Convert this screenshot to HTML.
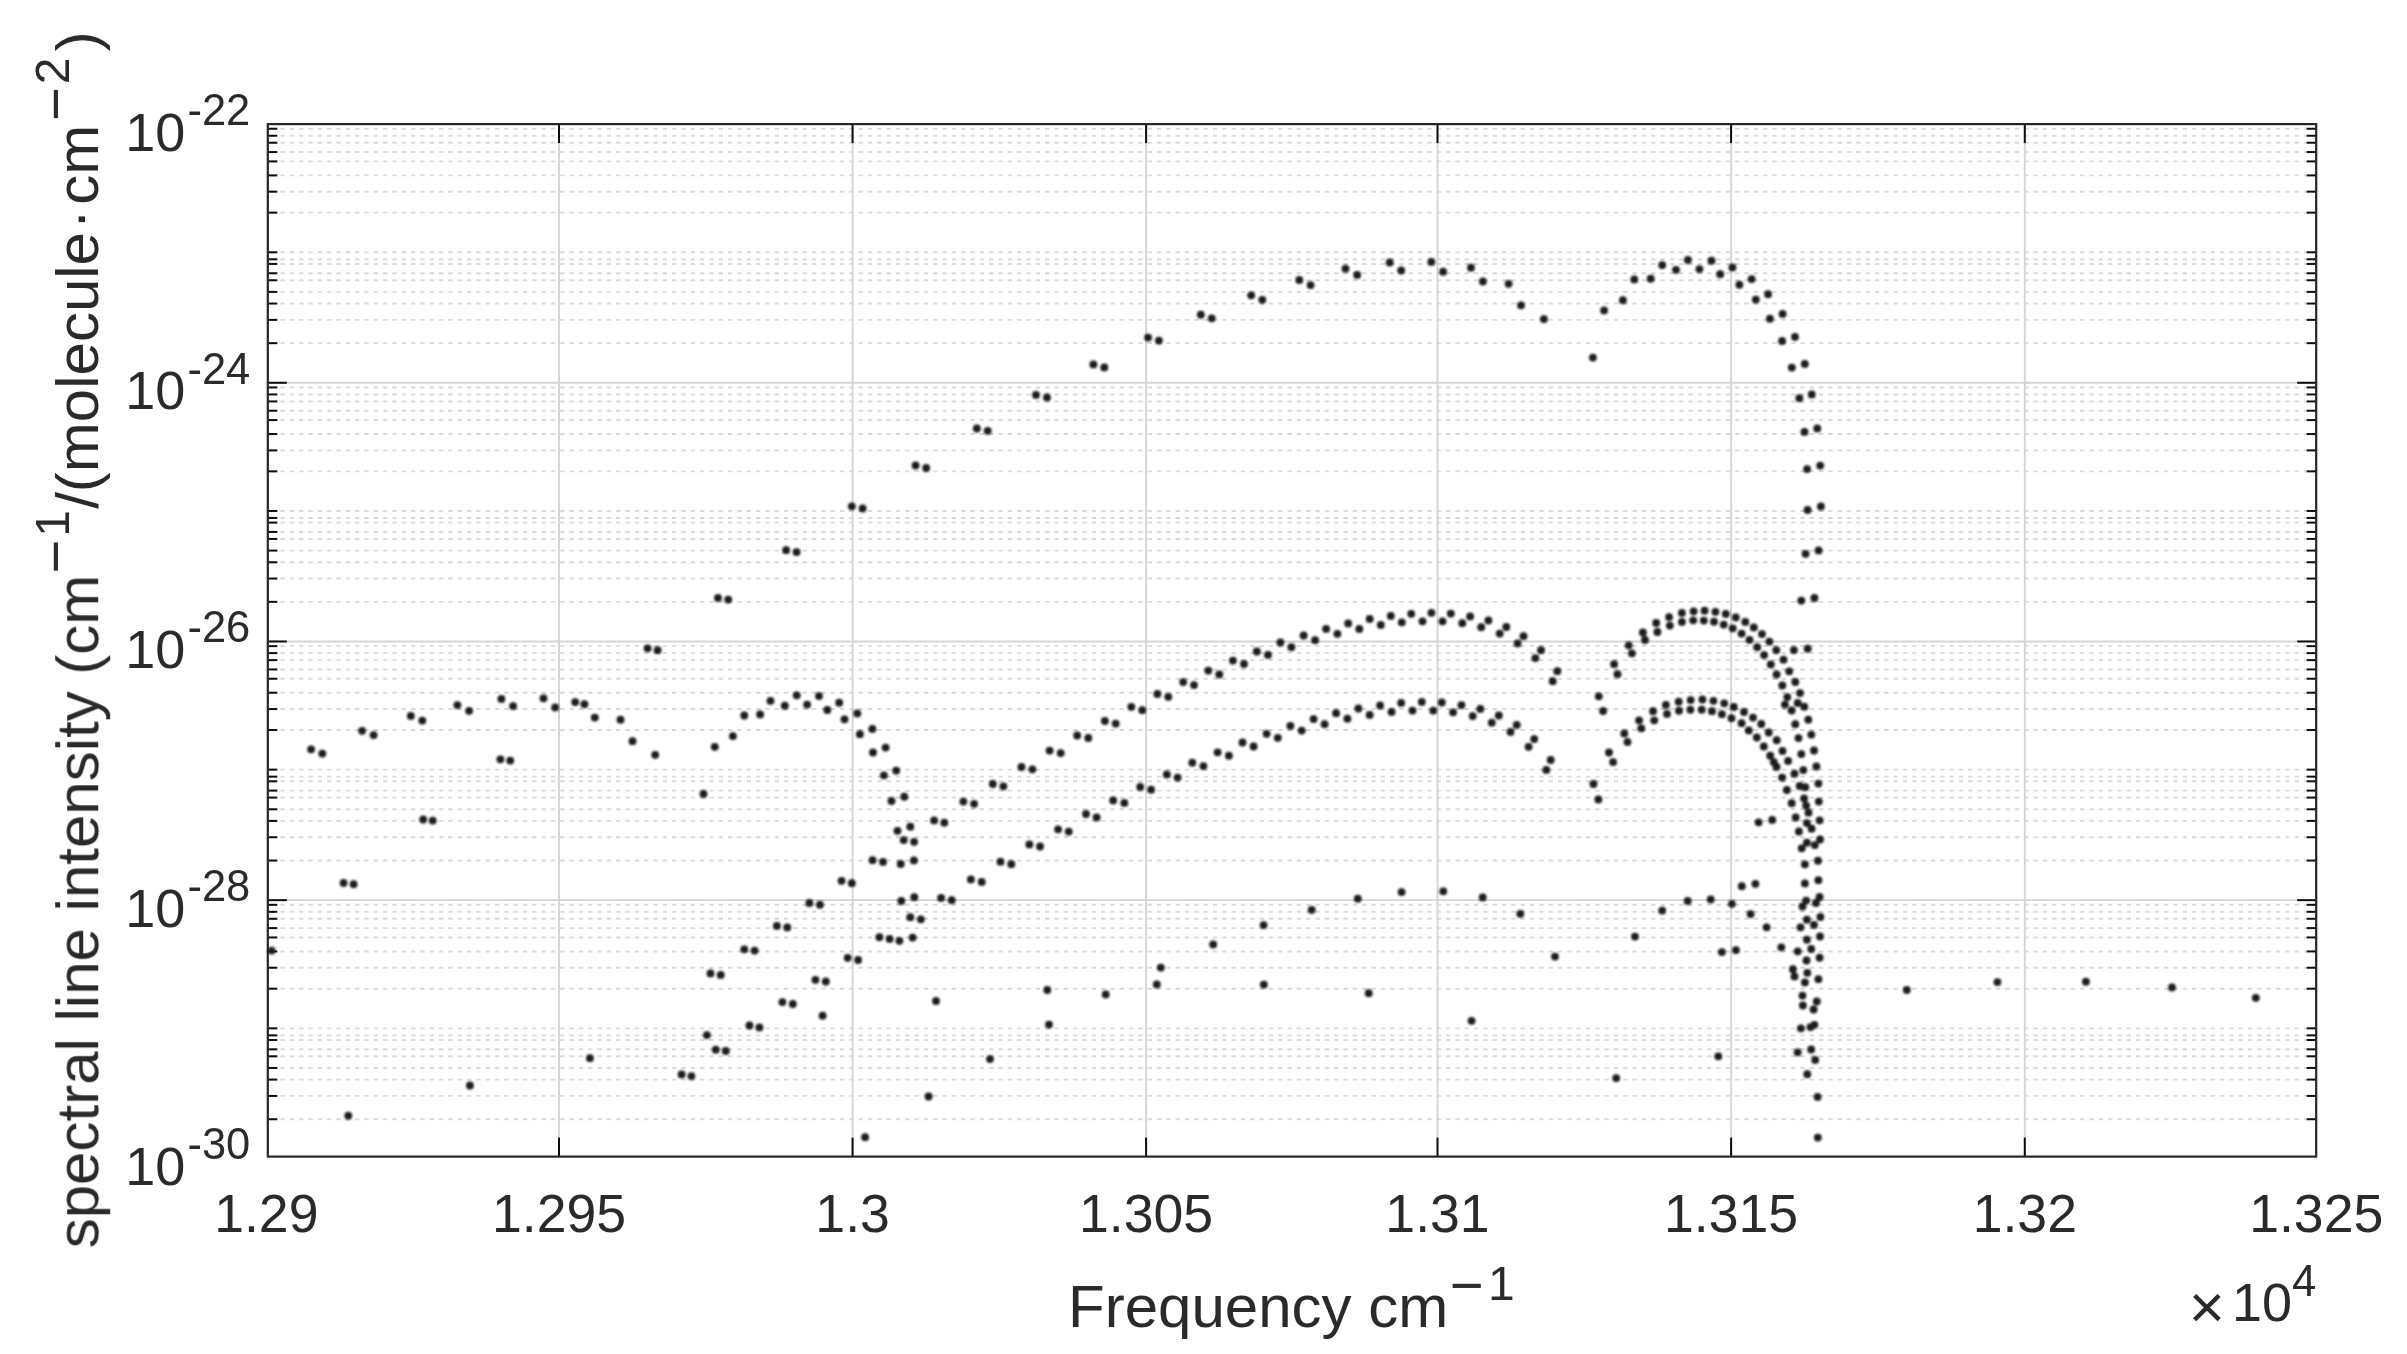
<!DOCTYPE html>
<html><head><meta charset="utf-8"><title>spectral line intensity</title>
<style>html,body{margin:0;padding:0;background:#fff}body{width:2407px;height:1354px;overflow:hidden}</style></head>
<body>
<svg width="2407" height="1354" viewBox="0 0 2407 1354" style="display:block">
<rect x="0" y="0" width="2407" height="1354" fill="#fff"/>
<defs><filter id="b1" x="-2%" y="-2%" width="104%" height="104%"><feGaussianBlur stdDeviation="0.85"/></filter><filter id="b2" x="-2%" y="-2%" width="104%" height="104%"><feGaussianBlur stdDeviation="0.55"/></filter></defs>
<g stroke="#dbdbdb" stroke-width="1.9" stroke-dasharray="4.4 4.9246" fill="none">
<line x1="271.06" y1="128.76" x2="2316.2" y2="128.76"/>
<line x1="271.06" y1="135.75" x2="2316.2" y2="135.75"/>
<line x1="271.06" y1="142.74" x2="2316.2" y2="142.74"/>
<line x1="271.06" y1="152.07" x2="2316.2" y2="152.07"/>
<line x1="271.06" y1="161.39" x2="2316.2" y2="161.39"/>
<line x1="271.06" y1="175.37" x2="2316.2" y2="175.37"/>
<line x1="271.06" y1="191.68" x2="2316.2" y2="191.68"/>
<line x1="271.06" y1="212.66" x2="2316.2" y2="212.66"/>
<line x1="271.06" y1="252.28" x2="2316.2" y2="252.28"/>
<line x1="271.06" y1="259.27" x2="2316.2" y2="259.27"/>
<line x1="271.06" y1="263.93" x2="2316.2" y2="263.93"/>
<line x1="271.06" y1="273.25" x2="2316.2" y2="273.25"/>
<line x1="271.06" y1="280.24" x2="2316.2" y2="280.24"/>
<line x1="271.06" y1="291.90" x2="2316.2" y2="291.90"/>
<line x1="271.06" y1="303.55" x2="2316.2" y2="303.55"/>
<line x1="271.06" y1="319.86" x2="2316.2" y2="319.86"/>
<line x1="271.06" y1="343.17" x2="2316.2" y2="343.17"/>
<line x1="271.06" y1="387.45" x2="2316.2" y2="387.45"/>
<line x1="271.06" y1="394.44" x2="2316.2" y2="394.44"/>
<line x1="271.06" y1="401.43" x2="2316.2" y2="401.43"/>
<line x1="271.06" y1="410.75" x2="2316.2" y2="410.75"/>
<line x1="271.06" y1="420.07" x2="2316.2" y2="420.07"/>
<line x1="271.06" y1="434.06" x2="2316.2" y2="434.06"/>
<line x1="271.06" y1="450.37" x2="2316.2" y2="450.37"/>
<line x1="271.06" y1="471.34" x2="2316.2" y2="471.34"/>
<line x1="271.06" y1="510.96" x2="2316.2" y2="510.96"/>
<line x1="271.06" y1="517.95" x2="2316.2" y2="517.95"/>
<line x1="271.06" y1="522.62" x2="2316.2" y2="522.62"/>
<line x1="271.06" y1="531.94" x2="2316.2" y2="531.94"/>
<line x1="271.06" y1="538.93" x2="2316.2" y2="538.93"/>
<line x1="271.06" y1="550.58" x2="2316.2" y2="550.58"/>
<line x1="271.06" y1="562.23" x2="2316.2" y2="562.23"/>
<line x1="271.06" y1="578.55" x2="2316.2" y2="578.55"/>
<line x1="271.06" y1="601.85" x2="2316.2" y2="601.85"/>
<line x1="271.06" y1="646.13" x2="2316.2" y2="646.13"/>
<line x1="271.06" y1="653.12" x2="2316.2" y2="653.12"/>
<line x1="271.06" y1="660.12" x2="2316.2" y2="660.12"/>
<line x1="271.06" y1="669.44" x2="2316.2" y2="669.44"/>
<line x1="271.06" y1="678.76" x2="2316.2" y2="678.76"/>
<line x1="271.06" y1="692.74" x2="2316.2" y2="692.74"/>
<line x1="271.06" y1="709.06" x2="2316.2" y2="709.06"/>
<line x1="271.06" y1="730.03" x2="2316.2" y2="730.03"/>
<line x1="271.06" y1="769.65" x2="2316.2" y2="769.65"/>
<line x1="271.06" y1="776.64" x2="2316.2" y2="776.64"/>
<line x1="271.06" y1="781.30" x2="2316.2" y2="781.30"/>
<line x1="271.06" y1="790.62" x2="2316.2" y2="790.62"/>
<line x1="271.06" y1="797.61" x2="2316.2" y2="797.61"/>
<line x1="271.06" y1="809.27" x2="2316.2" y2="809.27"/>
<line x1="271.06" y1="820.92" x2="2316.2" y2="820.92"/>
<line x1="271.06" y1="837.23" x2="2316.2" y2="837.23"/>
<line x1="271.06" y1="860.54" x2="2316.2" y2="860.54"/>
<line x1="271.06" y1="904.82" x2="2316.2" y2="904.82"/>
<line x1="271.06" y1="911.81" x2="2316.2" y2="911.81"/>
<line x1="271.06" y1="918.80" x2="2316.2" y2="918.80"/>
<line x1="271.06" y1="928.12" x2="2316.2" y2="928.12"/>
<line x1="271.06" y1="937.44" x2="2316.2" y2="937.44"/>
<line x1="271.06" y1="951.43" x2="2316.2" y2="951.43"/>
<line x1="271.06" y1="967.74" x2="2316.2" y2="967.74"/>
<line x1="271.06" y1="988.72" x2="2316.2" y2="988.72"/>
<line x1="271.06" y1="1028.33" x2="2316.2" y2="1028.33"/>
<line x1="271.06" y1="1035.33" x2="2316.2" y2="1035.33"/>
<line x1="271.06" y1="1039.99" x2="2316.2" y2="1039.99"/>
<line x1="271.06" y1="1049.31" x2="2316.2" y2="1049.31"/>
<line x1="271.06" y1="1056.30" x2="2316.2" y2="1056.30"/>
<line x1="271.06" y1="1067.95" x2="2316.2" y2="1067.95"/>
<line x1="271.06" y1="1079.60" x2="2316.2" y2="1079.60"/>
<line x1="271.06" y1="1095.92" x2="2316.2" y2="1095.92"/>
<line x1="271.06" y1="1119.22" x2="2316.2" y2="1119.22"/>
</g>
<g stroke="#d5d5d5" stroke-width="1.9" fill="none">
<line x1="267.8" y1="382.79" x2="2316.2" y2="382.79"/>
<line x1="267.8" y1="641.47" x2="2316.2" y2="641.47"/>
<line x1="267.8" y1="900.16" x2="2316.2" y2="900.16"/>
<line x1="559.0" y1="124.1" x2="559.0" y2="1156.6"/>
<line x1="852.6" y1="124.1" x2="852.6" y2="1156.6"/>
<line x1="1146.1" y1="124.1" x2="1146.1" y2="1156.6"/>
<line x1="1437.5" y1="124.1" x2="1437.5" y2="1156.6"/>
<line x1="1731.1" y1="124.1" x2="1731.1" y2="1156.6"/>
<line x1="2024.8" y1="124.1" x2="2024.8" y2="1156.6"/>
</g>
<g stroke="#111" stroke-width="2" fill="none" filter="url(#b2)">
<line x1="559.0" y1="1156.6" x2="559.0" y2="1137.6"/>
<line x1="559.0" y1="124.1" x2="559.0" y2="143.1"/>
<line x1="852.6" y1="1156.6" x2="852.6" y2="1137.6"/>
<line x1="852.6" y1="124.1" x2="852.6" y2="143.1"/>
<line x1="1146.1" y1="1156.6" x2="1146.1" y2="1137.6"/>
<line x1="1146.1" y1="124.1" x2="1146.1" y2="143.1"/>
<line x1="1437.5" y1="1156.6" x2="1437.5" y2="1137.6"/>
<line x1="1437.5" y1="124.1" x2="1437.5" y2="143.1"/>
<line x1="1731.1" y1="1156.6" x2="1731.1" y2="1137.6"/>
<line x1="1731.1" y1="124.1" x2="1731.1" y2="143.1"/>
<line x1="2024.8" y1="1156.6" x2="2024.8" y2="1137.6"/>
<line x1="2024.8" y1="124.1" x2="2024.8" y2="143.1"/>
<line x1="267.8" y1="382.79" x2="286.8" y2="382.79"/>
<line x1="2316.2" y1="382.79" x2="2297.2" y2="382.79"/>
<line x1="267.8" y1="641.47" x2="286.8" y2="641.47"/>
<line x1="2316.2" y1="641.47" x2="2297.2" y2="641.47"/>
<line x1="267.8" y1="900.16" x2="286.8" y2="900.16"/>
<line x1="2316.2" y1="900.16" x2="2297.2" y2="900.16"/>
<line x1="267.8" y1="128.76" x2="277.3" y2="128.76"/>
<line x1="2316.2" y1="128.76" x2="2306.7" y2="128.76"/>
<line x1="267.8" y1="135.75" x2="277.3" y2="135.75"/>
<line x1="2316.2" y1="135.75" x2="2306.7" y2="135.75"/>
<line x1="267.8" y1="142.74" x2="277.3" y2="142.74"/>
<line x1="2316.2" y1="142.74" x2="2306.7" y2="142.74"/>
<line x1="267.8" y1="152.07" x2="277.3" y2="152.07"/>
<line x1="2316.2" y1="152.07" x2="2306.7" y2="152.07"/>
<line x1="267.8" y1="161.39" x2="277.3" y2="161.39"/>
<line x1="2316.2" y1="161.39" x2="2306.7" y2="161.39"/>
<line x1="267.8" y1="175.37" x2="277.3" y2="175.37"/>
<line x1="2316.2" y1="175.37" x2="2306.7" y2="175.37"/>
<line x1="267.8" y1="191.68" x2="277.3" y2="191.68"/>
<line x1="2316.2" y1="191.68" x2="2306.7" y2="191.68"/>
<line x1="267.8" y1="212.66" x2="277.3" y2="212.66"/>
<line x1="2316.2" y1="212.66" x2="2306.7" y2="212.66"/>
<line x1="267.8" y1="252.28" x2="277.3" y2="252.28"/>
<line x1="2316.2" y1="252.28" x2="2306.7" y2="252.28"/>
<line x1="267.8" y1="259.27" x2="277.3" y2="259.27"/>
<line x1="2316.2" y1="259.27" x2="2306.7" y2="259.27"/>
<line x1="267.8" y1="263.93" x2="277.3" y2="263.93"/>
<line x1="2316.2" y1="263.93" x2="2306.7" y2="263.93"/>
<line x1="267.8" y1="273.25" x2="277.3" y2="273.25"/>
<line x1="2316.2" y1="273.25" x2="2306.7" y2="273.25"/>
<line x1="267.8" y1="280.24" x2="277.3" y2="280.24"/>
<line x1="2316.2" y1="280.24" x2="2306.7" y2="280.24"/>
<line x1="267.8" y1="291.90" x2="277.3" y2="291.90"/>
<line x1="2316.2" y1="291.90" x2="2306.7" y2="291.90"/>
<line x1="267.8" y1="303.55" x2="277.3" y2="303.55"/>
<line x1="2316.2" y1="303.55" x2="2306.7" y2="303.55"/>
<line x1="267.8" y1="319.86" x2="277.3" y2="319.86"/>
<line x1="2316.2" y1="319.86" x2="2306.7" y2="319.86"/>
<line x1="267.8" y1="343.17" x2="277.3" y2="343.17"/>
<line x1="2316.2" y1="343.17" x2="2306.7" y2="343.17"/>
<line x1="267.8" y1="387.45" x2="277.3" y2="387.45"/>
<line x1="2316.2" y1="387.45" x2="2306.7" y2="387.45"/>
<line x1="267.8" y1="394.44" x2="277.3" y2="394.44"/>
<line x1="2316.2" y1="394.44" x2="2306.7" y2="394.44"/>
<line x1="267.8" y1="401.43" x2="277.3" y2="401.43"/>
<line x1="2316.2" y1="401.43" x2="2306.7" y2="401.43"/>
<line x1="267.8" y1="410.75" x2="277.3" y2="410.75"/>
<line x1="2316.2" y1="410.75" x2="2306.7" y2="410.75"/>
<line x1="267.8" y1="420.07" x2="277.3" y2="420.07"/>
<line x1="2316.2" y1="420.07" x2="2306.7" y2="420.07"/>
<line x1="267.8" y1="434.06" x2="277.3" y2="434.06"/>
<line x1="2316.2" y1="434.06" x2="2306.7" y2="434.06"/>
<line x1="267.8" y1="450.37" x2="277.3" y2="450.37"/>
<line x1="2316.2" y1="450.37" x2="2306.7" y2="450.37"/>
<line x1="267.8" y1="471.34" x2="277.3" y2="471.34"/>
<line x1="2316.2" y1="471.34" x2="2306.7" y2="471.34"/>
<line x1="267.8" y1="510.96" x2="277.3" y2="510.96"/>
<line x1="2316.2" y1="510.96" x2="2306.7" y2="510.96"/>
<line x1="267.8" y1="517.95" x2="277.3" y2="517.95"/>
<line x1="2316.2" y1="517.95" x2="2306.7" y2="517.95"/>
<line x1="267.8" y1="522.62" x2="277.3" y2="522.62"/>
<line x1="2316.2" y1="522.62" x2="2306.7" y2="522.62"/>
<line x1="267.8" y1="531.94" x2="277.3" y2="531.94"/>
<line x1="2316.2" y1="531.94" x2="2306.7" y2="531.94"/>
<line x1="267.8" y1="538.93" x2="277.3" y2="538.93"/>
<line x1="2316.2" y1="538.93" x2="2306.7" y2="538.93"/>
<line x1="267.8" y1="550.58" x2="277.3" y2="550.58"/>
<line x1="2316.2" y1="550.58" x2="2306.7" y2="550.58"/>
<line x1="267.8" y1="562.23" x2="277.3" y2="562.23"/>
<line x1="2316.2" y1="562.23" x2="2306.7" y2="562.23"/>
<line x1="267.8" y1="578.55" x2="277.3" y2="578.55"/>
<line x1="2316.2" y1="578.55" x2="2306.7" y2="578.55"/>
<line x1="267.8" y1="601.85" x2="277.3" y2="601.85"/>
<line x1="2316.2" y1="601.85" x2="2306.7" y2="601.85"/>
<line x1="267.8" y1="646.13" x2="277.3" y2="646.13"/>
<line x1="2316.2" y1="646.13" x2="2306.7" y2="646.13"/>
<line x1="267.8" y1="653.12" x2="277.3" y2="653.12"/>
<line x1="2316.2" y1="653.12" x2="2306.7" y2="653.12"/>
<line x1="267.8" y1="660.12" x2="277.3" y2="660.12"/>
<line x1="2316.2" y1="660.12" x2="2306.7" y2="660.12"/>
<line x1="267.8" y1="669.44" x2="277.3" y2="669.44"/>
<line x1="2316.2" y1="669.44" x2="2306.7" y2="669.44"/>
<line x1="267.8" y1="678.76" x2="277.3" y2="678.76"/>
<line x1="2316.2" y1="678.76" x2="2306.7" y2="678.76"/>
<line x1="267.8" y1="692.74" x2="277.3" y2="692.74"/>
<line x1="2316.2" y1="692.74" x2="2306.7" y2="692.74"/>
<line x1="267.8" y1="709.06" x2="277.3" y2="709.06"/>
<line x1="2316.2" y1="709.06" x2="2306.7" y2="709.06"/>
<line x1="267.8" y1="730.03" x2="277.3" y2="730.03"/>
<line x1="2316.2" y1="730.03" x2="2306.7" y2="730.03"/>
<line x1="267.8" y1="769.65" x2="277.3" y2="769.65"/>
<line x1="2316.2" y1="769.65" x2="2306.7" y2="769.65"/>
<line x1="267.8" y1="776.64" x2="277.3" y2="776.64"/>
<line x1="2316.2" y1="776.64" x2="2306.7" y2="776.64"/>
<line x1="267.8" y1="781.30" x2="277.3" y2="781.30"/>
<line x1="2316.2" y1="781.30" x2="2306.7" y2="781.30"/>
<line x1="267.8" y1="790.62" x2="277.3" y2="790.62"/>
<line x1="2316.2" y1="790.62" x2="2306.7" y2="790.62"/>
<line x1="267.8" y1="797.61" x2="277.3" y2="797.61"/>
<line x1="2316.2" y1="797.61" x2="2306.7" y2="797.61"/>
<line x1="267.8" y1="809.27" x2="277.3" y2="809.27"/>
<line x1="2316.2" y1="809.27" x2="2306.7" y2="809.27"/>
<line x1="267.8" y1="820.92" x2="277.3" y2="820.92"/>
<line x1="2316.2" y1="820.92" x2="2306.7" y2="820.92"/>
<line x1="267.8" y1="837.23" x2="277.3" y2="837.23"/>
<line x1="2316.2" y1="837.23" x2="2306.7" y2="837.23"/>
<line x1="267.8" y1="860.54" x2="277.3" y2="860.54"/>
<line x1="2316.2" y1="860.54" x2="2306.7" y2="860.54"/>
<line x1="267.8" y1="904.82" x2="277.3" y2="904.82"/>
<line x1="2316.2" y1="904.82" x2="2306.7" y2="904.82"/>
<line x1="267.8" y1="911.81" x2="277.3" y2="911.81"/>
<line x1="2316.2" y1="911.81" x2="2306.7" y2="911.81"/>
<line x1="267.8" y1="918.80" x2="277.3" y2="918.80"/>
<line x1="2316.2" y1="918.80" x2="2306.7" y2="918.80"/>
<line x1="267.8" y1="928.12" x2="277.3" y2="928.12"/>
<line x1="2316.2" y1="928.12" x2="2306.7" y2="928.12"/>
<line x1="267.8" y1="937.44" x2="277.3" y2="937.44"/>
<line x1="2316.2" y1="937.44" x2="2306.7" y2="937.44"/>
<line x1="267.8" y1="951.43" x2="277.3" y2="951.43"/>
<line x1="2316.2" y1="951.43" x2="2306.7" y2="951.43"/>
<line x1="267.8" y1="967.74" x2="277.3" y2="967.74"/>
<line x1="2316.2" y1="967.74" x2="2306.7" y2="967.74"/>
<line x1="267.8" y1="988.72" x2="277.3" y2="988.72"/>
<line x1="2316.2" y1="988.72" x2="2306.7" y2="988.72"/>
<line x1="267.8" y1="1028.33" x2="277.3" y2="1028.33"/>
<line x1="2316.2" y1="1028.33" x2="2306.7" y2="1028.33"/>
<line x1="267.8" y1="1035.33" x2="277.3" y2="1035.33"/>
<line x1="2316.2" y1="1035.33" x2="2306.7" y2="1035.33"/>
<line x1="267.8" y1="1039.99" x2="277.3" y2="1039.99"/>
<line x1="2316.2" y1="1039.99" x2="2306.7" y2="1039.99"/>
<line x1="267.8" y1="1049.31" x2="277.3" y2="1049.31"/>
<line x1="2316.2" y1="1049.31" x2="2306.7" y2="1049.31"/>
<line x1="267.8" y1="1056.30" x2="277.3" y2="1056.30"/>
<line x1="2316.2" y1="1056.30" x2="2306.7" y2="1056.30"/>
<line x1="267.8" y1="1067.95" x2="277.3" y2="1067.95"/>
<line x1="2316.2" y1="1067.95" x2="2306.7" y2="1067.95"/>
<line x1="267.8" y1="1079.60" x2="277.3" y2="1079.60"/>
<line x1="2316.2" y1="1079.60" x2="2306.7" y2="1079.60"/>
<line x1="267.8" y1="1095.92" x2="277.3" y2="1095.92"/>
<line x1="2316.2" y1="1095.92" x2="2306.7" y2="1095.92"/>
<line x1="267.8" y1="1119.22" x2="277.3" y2="1119.22"/>
<line x1="2316.2" y1="1119.22" x2="2306.7" y2="1119.22"/>
</g>
<rect x="267.8" y="124.1" width="2048.3999999999996" height="1032.5" fill="none" stroke="#262626" stroke-width="2.2"/>
<g fill="#1a1a1a" filter="url(#b1)">
<circle cx="1776.6" cy="674.5" r="3.9"/>
<circle cx="1789.2" cy="671.3" r="3.9"/>
<circle cx="1782.3" cy="685.4" r="3.9"/>
<circle cx="1795.3" cy="682.0" r="3.9"/>
<circle cx="1787.3" cy="697.1" r="3.9"/>
<circle cx="1800.0" cy="693.1" r="3.9"/>
<circle cx="1784.9" cy="704.6" r="3.9"/>
<circle cx="1797.7" cy="703.0" r="3.9"/>
<circle cx="1791.6" cy="710.4" r="3.9"/>
<circle cx="1804.3" cy="706.7" r="3.9"/>
<circle cx="1795.3" cy="724.2" r="3.9"/>
<circle cx="1808.3" cy="719.7" r="3.9"/>
<circle cx="1798.5" cy="738.1" r="3.9"/>
<circle cx="1811.3" cy="734.6" r="3.9"/>
<circle cx="1744.0" cy="712.0" r="3.9"/>
<circle cx="1753.0" cy="717.6" r="3.9"/>
<circle cx="1741.6" cy="723.2" r="3.9"/>
<circle cx="1761.3" cy="724.0" r="3.9"/>
<circle cx="1748.8" cy="730.4" r="3.9"/>
<circle cx="1768.7" cy="732.5" r="3.9"/>
<circle cx="1756.8" cy="737.5" r="3.9"/>
<circle cx="1776.7" cy="740.2" r="3.9"/>
<circle cx="1763.8" cy="746.5" r="3.9"/>
<circle cx="1770.2" cy="755.7" r="3.9"/>
<circle cx="1776.5" cy="766.9" r="3.9"/>
<circle cx="1773.8" cy="762.1" r="3.9"/>
<circle cx="1782.5" cy="750.9" r="3.9"/>
<circle cx="1788.1" cy="760.9" r="3.9"/>
<circle cx="1801.3" cy="754.1" r="3.9"/>
<circle cx="1803.3" cy="770.1" r="3.9"/>
<circle cx="1814.0" cy="750.5" r="3.9"/>
<circle cx="1816.4" cy="766.5" r="3.9"/>
<circle cx="1818.4" cy="783.6" r="3.9"/>
<circle cx="1818.8" cy="801.6" r="3.9"/>
<circle cx="1819.6" cy="820.3" r="3.9"/>
<circle cx="1794.5" cy="773.7" r="3.9"/>
<circle cx="1782.1" cy="777.6" r="3.9"/>
<circle cx="1786.9" cy="790.0" r="3.9"/>
<circle cx="1799.7" cy="786.0" r="3.9"/>
<circle cx="1805.3" cy="787.2" r="3.9"/>
<circle cx="1791.7" cy="803.2" r="3.9"/>
<circle cx="1804.1" cy="798.4" r="3.9"/>
<circle cx="1806.1" cy="805.6" r="3.9"/>
<circle cx="1795.7" cy="817.5" r="3.9"/>
<circle cx="1808.5" cy="812.7" r="3.9"/>
<circle cx="1806.9" cy="823.1" r="3.9"/>
<circle cx="1811.6" cy="828.7" r="3.9"/>
<circle cx="1798.9" cy="831.5" r="3.9"/>
<circle cx="1758.6" cy="822.3" r="3.9"/>
<circle cx="1772.2" cy="819.9" r="3.9"/>
<circle cx="1820.0" cy="839.5" r="3.9"/>
<circle cx="1806.9" cy="842.7" r="3.9"/>
<circle cx="1814.8" cy="845.1" r="3.9"/>
<circle cx="1801.7" cy="848.3" r="3.9"/>
<circle cx="1818.0" cy="860.7" r="3.9"/>
<circle cx="1804.9" cy="864.3" r="3.9"/>
<circle cx="1818.4" cy="880.2" r="3.9"/>
<circle cx="1804.9" cy="883.4" r="3.9"/>
<circle cx="1741.8" cy="886.2" r="3.9"/>
<circle cx="1755.4" cy="883.8" r="3.9"/>
<circle cx="1819.6" cy="897.0" r="3.9"/>
<circle cx="1806.1" cy="900.6" r="3.9"/>
<circle cx="1816.0" cy="903.0" r="3.9"/>
<circle cx="1802.5" cy="906.5" r="3.9"/>
<circle cx="1710.7" cy="899.4" r="3.9"/>
<circle cx="1731.9" cy="903.8" r="3.9"/>
<circle cx="1750.6" cy="914.1" r="3.9"/>
<circle cx="1820.4" cy="916.9" r="3.9"/>
<circle cx="1806.9" cy="919.7" r="3.9"/>
<circle cx="1814.0" cy="924.9" r="3.9"/>
<circle cx="1800.5" cy="927.3" r="3.9"/>
<circle cx="1766.6" cy="927.3" r="3.9"/>
<circle cx="1820.0" cy="936.5" r="3.9"/>
<circle cx="1806.9" cy="939.7" r="3.9"/>
<circle cx="1781.3" cy="947.3" r="3.9"/>
<circle cx="1721.9" cy="952.1" r="3.9"/>
<circle cx="1735.9" cy="950.1" r="3.9"/>
<circle cx="1811.2" cy="948.9" r="3.9"/>
<circle cx="1797.7" cy="951.3" r="3.9"/>
<circle cx="1819.6" cy="957.7" r="3.9"/>
<circle cx="1806.5" cy="960.5" r="3.9"/>
<circle cx="1792.9" cy="969.2" r="3.9"/>
<circle cx="1794.5" cy="976.4" r="3.9"/>
<circle cx="1807.3" cy="972.8" r="3.9"/>
<circle cx="1818.4" cy="979.2" r="3.9"/>
<circle cx="1804.9" cy="982.4" r="3.9"/>
<circle cx="1802.5" cy="995.6" r="3.9"/>
<circle cx="1802.9" cy="1005.5" r="3.9"/>
<circle cx="1816.8" cy="1001.5" r="3.9"/>
<circle cx="1813.6" cy="1009.5" r="3.9"/>
<circle cx="1800.9" cy="1028.3" r="3.9"/>
<circle cx="1810.4" cy="1027.1" r="3.9"/>
<circle cx="1814.4" cy="1024.8" r="3.9"/>
<circle cx="1797.7" cy="1052.3" r="3.9"/>
<circle cx="1811.2" cy="1049.5" r="3.9"/>
<circle cx="1718.3" cy="1056.3" r="3.9"/>
<circle cx="1815.2" cy="1059.9" r="3.9"/>
<circle cx="1807.3" cy="1074.2" r="3.9"/>
<circle cx="1817.6" cy="1096.9" r="3.9"/>
<circle cx="786.1" cy="550.2" r="3.9"/>
<circle cx="796.6" cy="552.1" r="3.9"/>
<circle cx="1628.7" cy="645.3" r="3.9"/>
<circle cx="1631.9" cy="653.3" r="3.9"/>
<circle cx="1642.9" cy="632.5" r="3.9"/>
<circle cx="1645.0" cy="640.0" r="3.9"/>
<circle cx="1656.2" cy="623.0" r="3.9"/>
<circle cx="1657.4" cy="632.0" r="3.9"/>
<circle cx="1669.1" cy="617.1" r="3.9"/>
<circle cx="1669.8" cy="625.6" r="3.9"/>
<circle cx="1681.9" cy="612.9" r="3.9"/>
<circle cx="1681.9" cy="621.9" r="3.9"/>
<circle cx="1693.6" cy="611.3" r="3.9"/>
<circle cx="1693.2" cy="620.3" r="3.9"/>
<circle cx="1704.6" cy="610.7" r="3.9"/>
<circle cx="1703.8" cy="620.6" r="3.9"/>
<circle cx="1715.4" cy="611.8" r="3.9"/>
<circle cx="1714.0" cy="621.7" r="3.9"/>
<circle cx="1725.8" cy="613.9" r="3.9"/>
<circle cx="1723.7" cy="624.6" r="3.9"/>
<circle cx="1735.7" cy="617.4" r="3.9"/>
<circle cx="1732.7" cy="628.3" r="3.9"/>
<circle cx="1745.3" cy="621.9" r="3.9"/>
<circle cx="1741.6" cy="633.6" r="3.9"/>
<circle cx="1753.8" cy="627.4" r="3.9"/>
<circle cx="1749.5" cy="639.8" r="3.9"/>
<circle cx="1762.0" cy="634.1" r="3.9"/>
<circle cx="1757.2" cy="647.2" r="3.9"/>
<circle cx="1769.4" cy="641.6" r="3.9"/>
<circle cx="1764.1" cy="655.1" r="3.9"/>
<circle cx="1776.3" cy="650.1" r="3.9"/>
<circle cx="1770.8" cy="664.4" r="3.9"/>
<circle cx="1783.5" cy="659.7" r="3.9"/>
<circle cx="1801.3" cy="600.6" r="3.9"/>
<circle cx="1814.4" cy="598.0" r="3.9"/>
<circle cx="1793.9" cy="650.1" r="3.9"/>
<circle cx="1807.7" cy="648.7" r="3.9"/>
<circle cx="1639.1" cy="720.3" r="3.9"/>
<circle cx="1641.3" cy="728.3" r="3.9"/>
<circle cx="1653.0" cy="711.2" r="3.9"/>
<circle cx="1654.2" cy="720.3" r="3.9"/>
<circle cx="1665.9" cy="704.9" r="3.9"/>
<circle cx="1667.0" cy="713.9" r="3.9"/>
<circle cx="1678.7" cy="701.7" r="3.9"/>
<circle cx="1679.0" cy="710.7" r="3.9"/>
<circle cx="1690.7" cy="700.1" r="3.9"/>
<circle cx="1690.4" cy="709.7" r="3.9"/>
<circle cx="1702.4" cy="699.5" r="3.9"/>
<circle cx="1701.7" cy="709.7" r="3.9"/>
<circle cx="1713.4" cy="700.8" r="3.9"/>
<circle cx="1712.0" cy="711.2" r="3.9"/>
<circle cx="1724.2" cy="703.3" r="3.9"/>
<circle cx="1721.9" cy="714.2" r="3.9"/>
<circle cx="1733.8" cy="707.0" r="3.9"/>
<circle cx="1731.5" cy="718.2" r="3.9"/>
<circle cx="1711.5" cy="260.7" r="3.9"/>
<circle cx="1720.2" cy="274.2" r="3.9"/>
<circle cx="1732.4" cy="267.4" r="3.9"/>
<circle cx="1739.4" cy="284.7" r="3.9"/>
<circle cx="1751.6" cy="279.1" r="3.9"/>
<circle cx="1755.8" cy="299.6" r="3.9"/>
<circle cx="1768.1" cy="294.2" r="3.9"/>
<circle cx="1769.9" cy="318.7" r="3.9"/>
<circle cx="1782.6" cy="313.9" r="3.9"/>
<circle cx="1782.1" cy="341.0" r="3.9"/>
<circle cx="1795.0" cy="336.8" r="3.9"/>
<circle cx="1791.8" cy="367.6" r="3.9"/>
<circle cx="1804.8" cy="363.9" r="3.9"/>
<circle cx="1799.4" cy="398.2" r="3.9"/>
<circle cx="1811.7" cy="394.4" r="3.9"/>
<circle cx="1804.5" cy="431.9" r="3.9"/>
<circle cx="1817.3" cy="428.4" r="3.9"/>
<circle cx="1807.1" cy="469.1" r="3.9"/>
<circle cx="1820.2" cy="465.6" r="3.9"/>
<circle cx="1807.6" cy="509.9" r="3.9"/>
<circle cx="1820.9" cy="506.4" r="3.9"/>
<circle cx="1805.6" cy="553.8" r="3.9"/>
<circle cx="1818.6" cy="550.4" r="3.9"/>
<circle cx="311.1" cy="749.3" r="3.9"/>
<circle cx="322.3" cy="753.6" r="3.9"/>
<circle cx="362.1" cy="730.8" r="3.9"/>
<circle cx="373.6" cy="735.1" r="3.9"/>
<circle cx="410.8" cy="715.9" r="3.9"/>
<circle cx="422.3" cy="720.6" r="3.9"/>
<circle cx="457.4" cy="705.1" r="3.9"/>
<circle cx="469.1" cy="710.8" r="3.9"/>
<circle cx="501.4" cy="698.9" r="3.9"/>
<circle cx="513.1" cy="706.1" r="3.9"/>
<circle cx="543.5" cy="698.3" r="3.9"/>
<circle cx="555.2" cy="707.4" r="3.9"/>
<circle cx="575.2" cy="702.1" r="3.9"/>
<circle cx="584.4" cy="704.2" r="3.9"/>
<circle cx="594.8" cy="717.6" r="3.9"/>
<circle cx="620.5" cy="719.7" r="3.9"/>
<circle cx="632.5" cy="741.2" r="3.9"/>
<circle cx="655.2" cy="754.8" r="3.9"/>
<circle cx="500.4" cy="759.3" r="3.9"/>
<circle cx="510.2" cy="760.6" r="3.9"/>
<circle cx="423.2" cy="819.5" r="3.9"/>
<circle cx="432.7" cy="820.6" r="3.9"/>
<circle cx="647.6" cy="648.3" r="3.9"/>
<circle cx="657.6" cy="650.2" r="3.9"/>
<circle cx="718.0" cy="597.9" r="3.9"/>
<circle cx="728.2" cy="599.6" r="3.9"/>
<circle cx="703.5" cy="794.0" r="3.9"/>
<circle cx="714.8" cy="746.8" r="3.9"/>
<circle cx="732.9" cy="736.1" r="3.9"/>
<circle cx="744.3" cy="715.5" r="3.9"/>
<circle cx="760.1" cy="714.4" r="3.9"/>
<circle cx="770.5" cy="700.8" r="3.9"/>
<circle cx="343.6" cy="883.0" r="3.9"/>
<circle cx="353.6" cy="884.2" r="3.9"/>
<circle cx="271.7" cy="950.6" r="3.9"/>
<circle cx="744.3" cy="949.3" r="3.9"/>
<circle cx="754.6" cy="950.6" r="3.9"/>
<circle cx="710.5" cy="973.4" r="3.9"/>
<circle cx="720.7" cy="974.9" r="3.9"/>
<circle cx="749.5" cy="1025.5" r="3.9"/>
<circle cx="759.4" cy="1027.4" r="3.9"/>
<circle cx="706.9" cy="1035.1" r="3.9"/>
<circle cx="715.8" cy="1049.7" r="3.9"/>
<circle cx="725.8" cy="1051.0" r="3.9"/>
<circle cx="589.9" cy="1058.2" r="3.9"/>
<circle cx="681.6" cy="1074.4" r="3.9"/>
<circle cx="691.4" cy="1076.1" r="3.9"/>
<circle cx="469.9" cy="1085.5" r="3.9"/>
<circle cx="348.3" cy="1115.7" r="3.9"/>
<circle cx="784.8" cy="705.7" r="3.9"/>
<circle cx="796.7" cy="695.3" r="3.9"/>
<circle cx="807.1" cy="704.6" r="3.9"/>
<circle cx="819.0" cy="696.1" r="3.9"/>
<circle cx="827.3" cy="710.0" r="3.9"/>
<circle cx="839.2" cy="702.7" r="3.9"/>
<circle cx="844.5" cy="719.3" r="3.9"/>
<circle cx="857.3" cy="713.4" r="3.9"/>
<circle cx="859.9" cy="734.2" r="3.9"/>
<circle cx="872.4" cy="728.9" r="3.9"/>
<circle cx="873.0" cy="752.5" r="3.9"/>
<circle cx="885.6" cy="747.6" r="3.9"/>
<circle cx="883.9" cy="775.3" r="3.9"/>
<circle cx="896.2" cy="770.6" r="3.9"/>
<circle cx="891.5" cy="801.0" r="3.9"/>
<circle cx="904.3" cy="796.7" r="3.9"/>
<circle cx="897.5" cy="830.8" r="3.9"/>
<circle cx="910.3" cy="826.7" r="3.9"/>
<circle cx="903.7" cy="840.1" r="3.9"/>
<circle cx="914.1" cy="841.8" r="3.9"/>
<circle cx="934.1" cy="820.4" r="3.9"/>
<circle cx="944.3" cy="822.7" r="3.9"/>
<circle cx="963.4" cy="801.6" r="3.9"/>
<circle cx="974.1" cy="803.8" r="3.9"/>
<circle cx="992.8" cy="784.0" r="3.9"/>
<circle cx="1003.4" cy="786.3" r="3.9"/>
<circle cx="1021.5" cy="767.0" r="3.9"/>
<circle cx="1032.4" cy="769.3" r="3.9"/>
<circle cx="1049.6" cy="750.6" r="3.9"/>
<circle cx="1060.7" cy="753.1" r="3.9"/>
<circle cx="1077.2" cy="735.5" r="3.9"/>
<circle cx="1088.3" cy="738.0" r="3.9"/>
<circle cx="1104.9" cy="721.0" r="3.9"/>
<circle cx="1115.7" cy="723.6" r="3.9"/>
<circle cx="1131.3" cy="706.8" r="3.9"/>
<circle cx="1142.3" cy="710.2" r="3.9"/>
<circle cx="1157.4" cy="694.0" r="3.9"/>
<circle cx="1168.3" cy="696.8" r="3.9"/>
<circle cx="1183.2" cy="682.1" r="3.9"/>
<circle cx="1194.0" cy="685.1" r="3.9"/>
<circle cx="1208.3" cy="670.6" r="3.9"/>
<circle cx="1219.3" cy="674.4" r="3.9"/>
<circle cx="1232.9" cy="660.6" r="3.9"/>
<circle cx="1244.0" cy="664.0" r="3.9"/>
<circle cx="1256.8" cy="651.5" r="3.9"/>
<circle cx="1268.0" cy="654.9" r="3.9"/>
<circle cx="1280.4" cy="642.5" r="3.9"/>
<circle cx="1029.4" cy="844.4" r="3.9"/>
<circle cx="1040.0" cy="846.5" r="3.9"/>
<circle cx="1058.1" cy="829.3" r="3.9"/>
<circle cx="1068.7" cy="831.6" r="3.9"/>
<circle cx="1086.0" cy="814.0" r="3.9"/>
<circle cx="1096.6" cy="817.4" r="3.9"/>
<circle cx="1113.2" cy="800.4" r="3.9"/>
<circle cx="1124.3" cy="802.9" r="3.9"/>
<circle cx="1140.2" cy="787.0" r="3.9"/>
<circle cx="1151.1" cy="789.7" r="3.9"/>
<circle cx="1166.8" cy="774.4" r="3.9"/>
<circle cx="1177.6" cy="777.6" r="3.9"/>
<circle cx="1192.3" cy="762.7" r="3.9"/>
<circle cx="1203.4" cy="766.1" r="3.9"/>
<circle cx="1217.6" cy="752.3" r="3.9"/>
<circle cx="1228.9" cy="755.7" r="3.9"/>
<circle cx="1242.5" cy="742.5" r="3.9"/>
<circle cx="1253.6" cy="746.5" r="3.9"/>
<circle cx="1266.6" cy="733.8" r="3.9"/>
<circle cx="1277.8" cy="737.8" r="3.9"/>
<circle cx="872.6" cy="860.2" r="3.9"/>
<circle cx="883.0" cy="861.9" r="3.9"/>
<circle cx="900.7" cy="864.0" r="3.9"/>
<circle cx="913.9" cy="860.4" r="3.9"/>
<circle cx="841.6" cy="880.8" r="3.9"/>
<circle cx="851.8" cy="883.2" r="3.9"/>
<circle cx="1000.5" cy="861.7" r="3.9"/>
<circle cx="1011.3" cy="864.2" r="3.9"/>
<circle cx="970.9" cy="879.4" r="3.9"/>
<circle cx="981.7" cy="881.9" r="3.9"/>
<circle cx="809.4" cy="903.0" r="3.9"/>
<circle cx="819.9" cy="904.7" r="3.9"/>
<circle cx="901.3" cy="901.0" r="3.9"/>
<circle cx="914.3" cy="897.2" r="3.9"/>
<circle cx="941.1" cy="897.9" r="3.9"/>
<circle cx="951.7" cy="900.2" r="3.9"/>
<circle cx="910.3" cy="917.2" r="3.9"/>
<circle cx="920.9" cy="919.3" r="3.9"/>
<circle cx="776.9" cy="925.9" r="3.9"/>
<circle cx="787.3" cy="927.4" r="3.9"/>
<circle cx="879.4" cy="937.2" r="3.9"/>
<circle cx="889.6" cy="938.9" r="3.9"/>
<circle cx="899.4" cy="940.8" r="3.9"/>
<circle cx="912.6" cy="937.6" r="3.9"/>
<circle cx="847.7" cy="957.8" r="3.9"/>
<circle cx="858.1" cy="960.0" r="3.9"/>
<circle cx="815.4" cy="979.8" r="3.9"/>
<circle cx="825.8" cy="981.5" r="3.9"/>
<circle cx="782.4" cy="1002.1" r="3.9"/>
<circle cx="792.8" cy="1004.0" r="3.9"/>
<circle cx="822.6" cy="1015.7" r="3.9"/>
<circle cx="936.0" cy="1001.0" r="3.9"/>
<circle cx="1047.3" cy="990.0" r="3.9"/>
<circle cx="1105.7" cy="994.4" r="3.9"/>
<circle cx="1049.0" cy="1024.6" r="3.9"/>
<circle cx="990.0" cy="1059.1" r="3.9"/>
<circle cx="928.6" cy="1096.5" r="3.9"/>
<circle cx="1160.8" cy="967.6" r="3.9"/>
<circle cx="1156.8" cy="984.4" r="3.9"/>
<circle cx="1213.2" cy="944.4" r="3.9"/>
<circle cx="1263.6" cy="925.1" r="3.9"/>
<circle cx="1263.8" cy="984.6" r="3.9"/>
<circle cx="851.8" cy="506.3" r="3.9"/>
<circle cx="862.6" cy="508.4" r="3.9"/>
<circle cx="915.6" cy="465.5" r="3.9"/>
<circle cx="926.2" cy="468.0" r="3.9"/>
<circle cx="976.8" cy="428.5" r="3.9"/>
<circle cx="987.7" cy="430.8" r="3.9"/>
<circle cx="1036.0" cy="394.9" r="3.9"/>
<circle cx="1047.0" cy="397.4" r="3.9"/>
<circle cx="1093.4" cy="364.4" r="3.9"/>
<circle cx="1104.3" cy="367.4" r="3.9"/>
<circle cx="1148.1" cy="337.6" r="3.9"/>
<circle cx="1158.9" cy="340.6" r="3.9"/>
<circle cx="1200.8" cy="314.7" r="3.9"/>
<circle cx="1211.7" cy="318.3" r="3.9"/>
<circle cx="1251.2" cy="295.3" r="3.9"/>
<circle cx="1262.3" cy="299.8" r="3.9"/>
<circle cx="1299.3" cy="280.0" r="3.9"/>
<circle cx="1310.6" cy="285.1" r="3.9"/>
<circle cx="1345.5" cy="268.7" r="3.9"/>
<circle cx="1357.2" cy="274.9" r="3.9"/>
<circle cx="1389.7" cy="262.5" r="3.9"/>
<circle cx="1401.2" cy="270.4" r="3.9"/>
<circle cx="1431.4" cy="261.9" r="3.9"/>
<circle cx="1443.1" cy="271.7" r="3.9"/>
<circle cx="1471.0" cy="267.7" r="3.9"/>
<circle cx="1482.9" cy="281.5" r="3.9"/>
<circle cx="1508.6" cy="283.8" r="3.9"/>
<circle cx="1521.0" cy="305.3" r="3.9"/>
<circle cx="1543.9" cy="319.1" r="3.9"/>
<circle cx="1592.9" cy="357.6" r="3.9"/>
<circle cx="1604.1" cy="310.4" r="3.9"/>
<circle cx="1622.9" cy="300.2" r="3.9"/>
<circle cx="1634.3" cy="279.4" r="3.9"/>
<circle cx="1650.7" cy="278.7" r="3.9"/>
<circle cx="1662.2" cy="265.1" r="3.9"/>
<circle cx="1676.0" cy="269.8" r="3.9"/>
<circle cx="1687.9" cy="260.0" r="3.9"/>
<circle cx="1699.4" cy="269.1" r="3.9"/>
<circle cx="1291.4" cy="647.2" r="3.9"/>
<circle cx="1303.6" cy="635.5" r="3.9"/>
<circle cx="1315.1" cy="640.2" r="3.9"/>
<circle cx="1326.1" cy="628.9" r="3.9"/>
<circle cx="1337.4" cy="633.8" r="3.9"/>
<circle cx="1348.2" cy="623.4" r="3.9"/>
<circle cx="1359.3" cy="628.9" r="3.9"/>
<circle cx="1369.7" cy="618.9" r="3.9"/>
<circle cx="1380.8" cy="624.9" r="3.9"/>
<circle cx="1390.8" cy="615.9" r="3.9"/>
<circle cx="1401.8" cy="622.3" r="3.9"/>
<circle cx="1411.2" cy="613.8" r="3.9"/>
<circle cx="1422.5" cy="621.3" r="3.9"/>
<circle cx="1431.4" cy="612.8" r="3.9"/>
<circle cx="1442.5" cy="621.3" r="3.9"/>
<circle cx="1450.8" cy="613.6" r="3.9"/>
<circle cx="1462.3" cy="623.2" r="3.9"/>
<circle cx="1470.1" cy="616.4" r="3.9"/>
<circle cx="1481.2" cy="627.2" r="3.9"/>
<circle cx="1488.4" cy="620.4" r="3.9"/>
<circle cx="1499.7" cy="633.6" r="3.9"/>
<circle cx="1506.3" cy="627.0" r="3.9"/>
<circle cx="1517.6" cy="643.4" r="3.9"/>
<circle cx="1523.5" cy="636.2" r="3.9"/>
<circle cx="1535.4" cy="658.1" r="3.9"/>
<circle cx="1541.0" cy="650.2" r="3.9"/>
<circle cx="1552.7" cy="681.2" r="3.9"/>
<circle cx="1557.3" cy="671.2" r="3.9"/>
<circle cx="1290.4" cy="725.9" r="3.9"/>
<circle cx="1301.7" cy="730.6" r="3.9"/>
<circle cx="1313.6" cy="719.1" r="3.9"/>
<circle cx="1324.6" cy="724.2" r="3.9"/>
<circle cx="1336.1" cy="713.2" r="3.9"/>
<circle cx="1347.4" cy="718.7" r="3.9"/>
<circle cx="1358.4" cy="708.5" r="3.9"/>
<circle cx="1369.7" cy="714.9" r="3.9"/>
<circle cx="1380.1" cy="705.5" r="3.9"/>
<circle cx="1391.6" cy="711.9" r="3.9"/>
<circle cx="1401.2" cy="702.9" r="3.9"/>
<circle cx="1412.5" cy="710.6" r="3.9"/>
<circle cx="1421.8" cy="701.9" r="3.9"/>
<circle cx="1433.3" cy="710.6" r="3.9"/>
<circle cx="1441.8" cy="702.5" r="3.9"/>
<circle cx="1453.1" cy="712.3" r="3.9"/>
<circle cx="1461.4" cy="705.1" r="3.9"/>
<circle cx="1472.7" cy="716.1" r="3.9"/>
<circle cx="1480.3" cy="708.9" r="3.9"/>
<circle cx="1491.8" cy="722.7" r="3.9"/>
<circle cx="1498.8" cy="715.5" r="3.9"/>
<circle cx="1510.5" cy="731.9" r="3.9"/>
<circle cx="1516.7" cy="724.9" r="3.9"/>
<circle cx="1528.6" cy="746.8" r="3.9"/>
<circle cx="1534.2" cy="739.1" r="3.9"/>
<circle cx="1546.3" cy="769.9" r="3.9"/>
<circle cx="1550.7" cy="760.0" r="3.9"/>
<circle cx="1598.8" cy="696.3" r="3.9"/>
<circle cx="1603.1" cy="711.0" r="3.9"/>
<circle cx="1593.5" cy="784.0" r="3.9"/>
<circle cx="1598.4" cy="799.5" r="3.9"/>
<circle cx="1614.1" cy="664.2" r="3.9"/>
<circle cx="1617.5" cy="674.2" r="3.9"/>
<circle cx="1609.0" cy="752.5" r="3.9"/>
<circle cx="1613.1" cy="762.1" r="3.9"/>
<circle cx="1624.3" cy="733.4" r="3.9"/>
<circle cx="1627.5" cy="741.9" r="3.9"/>
<circle cx="1616.2" cy="1078.1" r="3.9"/>
<circle cx="1817.8" cy="1137.6" r="3.9"/>
<circle cx="1311.7" cy="909.8" r="3.9"/>
<circle cx="1357.8" cy="898.7" r="3.9"/>
<circle cx="1401.6" cy="892.1" r="3.9"/>
<circle cx="1443.3" cy="891.3" r="3.9"/>
<circle cx="1482.7" cy="897.4" r="3.9"/>
<circle cx="1520.3" cy="913.8" r="3.9"/>
<circle cx="1555.0" cy="956.6" r="3.9"/>
<circle cx="1635.0" cy="936.6" r="3.9"/>
<circle cx="1662.2" cy="910.6" r="3.9"/>
<circle cx="1687.7" cy="901.0" r="3.9"/>
<circle cx="1368.7" cy="993.2" r="3.9"/>
<circle cx="1471.6" cy="1020.8" r="3.9"/>
<circle cx="1906.8" cy="990.0" r="3.9"/>
<circle cx="1997.4" cy="982.1" r="3.9"/>
<circle cx="2085.9" cy="981.7" r="3.9"/>
<circle cx="2172.0" cy="987.4" r="3.9"/>
<circle cx="2255.8" cy="997.8" r="3.9"/>
<circle cx="865.1" cy="1137.2" r="3.9"/>
</g>
<g font-family="Liberation Sans, Arial, sans-serif" fill="#2b2b2b" filter="url(#b2)">
<text x="266.3" y="1232" font-size="53.6" text-anchor="middle">1.29</text>
<text x="559.0" y="1232" font-size="53.6" text-anchor="middle">1.295</text>
<text x="852.6" y="1232" font-size="53.6" text-anchor="middle">1.3</text>
<text x="1146.1" y="1232" font-size="53.6" text-anchor="middle">1.305</text>
<text x="1437.5" y="1232" font-size="53.6" text-anchor="middle">1.31</text>
<text x="1731.1" y="1232" font-size="53.6" text-anchor="middle">1.315</text>
<text x="2024.8" y="1232" font-size="53.6" text-anchor="middle">1.32</text>
<text x="2316.2" y="1232" font-size="53.6" text-anchor="middle">1.325</text>
<text x="185.3" y="150.7" font-size="54" text-anchor="end">10</text>
<text x="250.3" y="124.9" font-size="43.5" text-anchor="end">-22</text>
<text x="185.3" y="409.4" font-size="54" text-anchor="end">10</text>
<text x="250.3" y="383.6" font-size="43.5" text-anchor="end">-24</text>
<text x="185.3" y="668.1" font-size="54" text-anchor="end">10</text>
<text x="250.3" y="642.3" font-size="43.5" text-anchor="end">-26</text>
<text x="185.3" y="926.8" font-size="54" text-anchor="end">10</text>
<text x="250.3" y="901.0" font-size="43.5" text-anchor="end">-28</text>
<text x="185.3" y="1185.2" font-size="54" text-anchor="end">10</text>
<text x="250.3" y="1159.4" font-size="43.5" text-anchor="end">-30</text>
<text x="2188.7" y="1328" font-size="62">×</text>
<text x="2231.9" y="1320.5" font-size="54">10</text>
<text x="2292" y="1295.5" font-size="43.5">4</text>
<text x="1068.1" y="1327" font-size="60">Frequency cm</text>
<text x="1449.8" y="1305.2" font-size="58">−</text>
<text x="1488" y="1299.5" font-size="48">1</text>
<text transform="translate(98.2,1248.3) rotate(-90)" font-size="60">spectral line intensity (cm</text>
<text transform="translate(74.6,573.5) rotate(-90)" font-size="58">−</text>
<text transform="translate(69.4,536.8) rotate(-90)" font-size="48">1</text>
<text transform="translate(98.2,508.8) rotate(-90)" font-size="60">/(molecule</text>
<text transform="translate(98.2,229.3) rotate(-90)" font-size="60">·</text>
<text transform="translate(98.2,204.8) rotate(-90)" font-size="60">cm</text>
<text transform="translate(74.6,121.1) rotate(-90)" font-size="58">−</text>
<text transform="translate(69.4,84.3) rotate(-90)" font-size="48">2</text>
<text transform="translate(98.2,51.3) rotate(-90)" font-size="60">)</text>
</g>
</svg>
</body></html>
